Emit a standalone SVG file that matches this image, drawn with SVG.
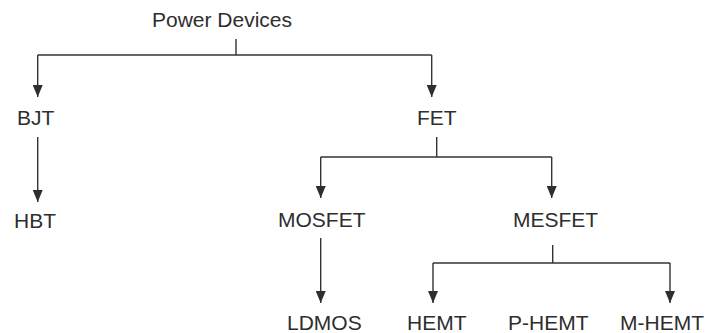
<svg xmlns="http://www.w3.org/2000/svg" width="709" height="333" viewBox="0 0 709 333">
<defs>
<marker id="arr" markerUnits="userSpaceOnUse" markerWidth="12" markerHeight="10" viewBox="0 0 12 10" refX="12" refY="5" orient="auto">
<path d="M0,0 L12,5 L0,10 Z" fill="#2e2e2e"/>
</marker>
<style>
text{font-family:"Liberation Sans",Arial,sans-serif;font-size:21px;fill:#2e2e2e}
.c{fill:none;stroke:#333;stroke-width:1.4}
</style>
</defs>
<rect width="709" height="333" fill="#fff"/>
<g id="connectors">
<path class="c" d="M236,39 V55"/>
<path class="c" d="M37.7,55 H431.7"/>
<path class="c" d="M37.7,55 V97" marker-end="url(#arr)"/>
<path class="c" d="M431.7,55 V97" marker-end="url(#arr)"/>
<path class="c" d="M37.7,137 V202" marker-end="url(#arr)"/>
<path class="c" d="M436.7,137 V157"/>
<path class="c" d="M320.7,157 H551.7"/>
<path class="c" d="M320.7,157 V198" marker-end="url(#arr)"/>
<path class="c" d="M551.7,157 V198" marker-end="url(#arr)"/>
<path class="c" d="M320.7,238 V303" marker-end="url(#arr)"/>
<path class="c" d="M552.7,245 V263"/>
<path class="c" d="M433,263 H670"/>
<path class="c" d="M433,263 V303" marker-end="url(#arr)"/>
<path class="c" d="M670,263 V303" marker-end="url(#arr)"/>
</g>
<g id="power-devices"><text x="152" y="27">Power Devices</text></g>
<g id="bjt"><text x="17" y="125">BJT</text></g>
<g id="fet"><text x="417" y="125">FET</text></g>
<g id="hbt"><text x="14" y="228">HBT</text></g>
<g id="mosfet"><text x="278" y="227">MOSFET</text></g>
<g id="mesfet"><text x="513" y="227">MESFET</text></g>
<g id="ldmos"><text x="287" y="330">LDMOS</text></g>
<g id="hemt"><text x="407" y="330">HEMT</text></g>
<g id="p-hemt"><text x="508" y="330">P-HEMT</text></g>
<g id="m-hemt"><text x="620" y="330">M-HEMT</text></g>
</svg>
